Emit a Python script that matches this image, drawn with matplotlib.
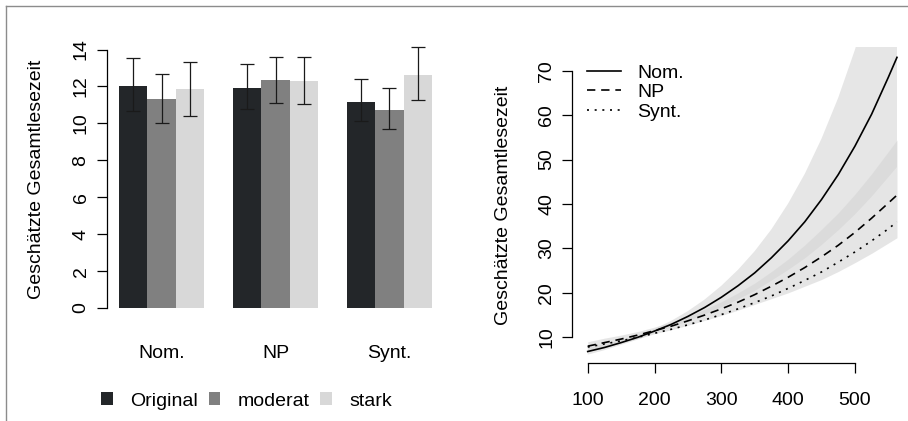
import matplotlib
matplotlib.use("Agg")
import matplotlib.pyplot as plt
from matplotlib.lines import Line2D
import numpy as np

plt.rcParams['font.family'] = ['Liberation Sans', 'DejaVu Sans']
plt.rcParams['font.size'] = 14

W, H = 908, 421

# left panel: estimated total reading time per condition and degradation level
conditions = ["Nom.", "NP", "Synt."]
levels = ["Original", "moderat", "stark"]
level_colors = ["#232629", "#808080", "#d8d8d8"]

mean_original = [12.00, 11.93, 11.18]
low_original = [10.67, 10.78, 10.12]
high_original = [13.52, 13.22, 12.42]

mean_moderat = [11.30, 12.33, 10.70]
low_moderat = [10.00, 11.13, 9.69]
high_moderat = [12.70, 13.62, 11.92]

mean_stark = [11.85, 12.28, 12.62]
low_stark = [10.42, 11.06, 11.29]
high_stark = [13.33, 13.58, 14.14]

# right panel: fitted curves with confidence bands
x_len = [100, 125, 150, 175, 200, 225, 250, 275, 300, 325, 350, 375, 400,
         425, 450, 475, 500, 525, 550, 563]
fit_nom = [6.8, 7.7, 8.8, 10.0, 11.4, 12.9, 14.7, 16.7, 19.0, 21.6, 24.5,
           27.9, 31.7, 36.0, 41.0, 46.6, 53.0, 60.2, 68.5, 73.0]
fit_np = [8.0, 8.8, 9.6, 10.5, 11.5, 12.5, 13.7, 15.0, 16.4, 17.9, 19.6,
          21.5, 23.5, 25.7, 28.1, 30.7, 33.6, 36.8, 40.2, 42.0]
fit_synt = [7.8, 8.5, 9.2, 10.0, 10.9, 11.8, 12.8, 13.9, 15.1, 16.4, 17.8,
            19.3, 21.0, 22.8, 24.7, 26.9, 29.2, 31.7, 34.4, 36.0]

nom_lo = [6.1, 7.1, 8.3, 9.5, 10.9, 12.2, 13.6, 15.1, 16.7, 18.5, 20.4,
          22.7, 25.1, 27.7, 30.7, 34.0, 37.6, 41.6, 46.0, 48.3]
nom_hi = [7.6, 8.4, 9.4, 10.5, 11.9, 13.7, 15.9, 18.5, 21.6, 25.2, 29.4,
          34.3, 40.1, 46.8, 54.7, 63.9, 74.7, 87.2, 101.9, 110.2]
np_lo = [7.1, 7.9, 8.8, 9.7, 10.8, 11.7, 12.7, 13.8, 14.9, 16.1, 17.4,
         18.7, 20.0, 21.5, 23.0, 24.8, 26.8, 28.9, 31.2, 32.4]
np_hi = [9.0, 9.8, 10.5, 11.3, 12.3, 13.4, 14.7, 16.3, 18.0, 20.0, 22.2,
         24.8, 27.6, 30.8, 34.3, 38.0, 42.2, 46.8, 51.8, 54.4]

fig = plt.figure(figsize=(W / 100, H / 100), dpi=100)


def px_box(left, top, right, bottom):
    return [left / W, 1 - bottom / H, (right - left) / W, (bottom - top) / H]


# ---- bar chart ----
ax1 = fig.add_axes(px_box(106.5, 39.2, 444.5, 318.4))
means = [mean_original, mean_moderat, mean_stark]
lows = [low_original, low_moderat, low_stark]
highs = [high_original, high_moderat, high_stark]
group_pos = np.arange(len(conditions)) * 4 + 1
bar_handles = []
for j, lev in enumerate(levels):
    xs = group_pos + 0.5 + j
    m = np.array(means[j])
    b = ax1.bar(xs, m, width=1.0, color=level_colors[j], linewidth=0, label=lev)
    bar_handles.append(b)
    ax1.errorbar(xs, m, yerr=[m - np.array(lows[j]), np.array(highs[j]) - m],
                 fmt='none', ecolor='#1a1a1a', elinewidth=0.9,
                 capsize=4.7, capthick=0.9)

ax1.set_xlim(0.56, 12.44)
ax1.set_ylim(-0.56, 14.56)
for s in ['top', 'right', 'bottom']:
    ax1.spines[s].set_visible(False)
ax1.spines['left'].set_bounds(0, 14)
ax1.spines['left'].set_linewidth(0.9)
ax1.set_yticks(range(0, 15, 2))
ax1.tick_params(axis='y', labelrotation=90, length=7.2, width=0.9, pad=5)
for lab in ax1.get_yticklabels():
    lab.set_va('center')
ax1.set_xticks(group_pos + 1.5)
ax1.set_xticklabels(conditions)
ax1.tick_params(axis='x', length=0, pad=19)

fig.text(37 / W, 1 - 179 / H, "Geschätzte Gesamtlesezeit", rotation=90,
         ha='center', va='center')

fig.legend(handles=bar_handles, labels=levels, ncol=3, loc='center left',
           bbox_to_anchor=(101 / W, 1 - 401 / H), frameon=False,
           handlelength=0.6, handleheight=0.6, handletextpad=0.9,
           columnspacing=0.55, borderpad=0, borderaxespad=0)

# ---- fitted curves ----
ax2 = fig.add_axes(px_box(572.3, 46.7, 908, 362.7))
ax2.fill_between(x_len, nom_lo, nom_hi, color='#e6e6e6', linewidth=0)
ax2.fill_between(x_len, np_lo, np_hi, color='#d5d5d5', alpha=0.6,
                 linewidth=0)
ax2.plot(x_len, fit_nom, color='black', lw=1.2, ls='-', label="Nom.")
ax2.plot(x_len, fit_np, color='black', lw=1.2, ls=(0, (5, 3.5)), label="NP")
ax2.plot(x_len, fit_synt, color='black', lw=1.2, ls=(0, (1.2, 3.4)),
         label="Synt.")

ax2.set_xlim(76.9, 579.5)
ax2.set_ylim(4.28, 75.4)
ax2.spines['top'].set_visible(False)
ax2.spines['right'].set_visible(False)
ax2.spines['left'].set_bounds(10, 70)
ax2.spines['bottom'].set_bounds(100, 500)
ax2.spines['left'].set_linewidth(0.9)
ax2.spines['bottom'].set_linewidth(0.9)
ax2.set_yticks(range(10, 71, 10))
ax2.set_xticks(range(100, 501, 100))
ax2.tick_params(axis='y', labelrotation=90, length=7.2, width=0.9, pad=5)
for lab in ax2.get_yticklabels():
    lab.set_va('center')
ax2.tick_params(axis='x', length=7.2, width=0.9, pad=14)

fig.text(503.5 / W, 1 - 205 / H, "Geschätzte Gesamtlesezeit", rotation=90,
         ha='center', va='center')

ax2.legend(loc='upper left', bbox_to_anchor=(586.7 / W, 1 - 64 / H),
           bbox_transform=fig.transFigure, frameon=False,
           handlelength=1.75, handletextpad=0.85, labelspacing=0.1,
           borderpad=0, borderaxespad=0)

# outer frame
fig.add_artist(Line2D([6 / W, 6 / W], [0, 1 - 5.5 / H], transform=fig.transFigure,
                      color='#8c8c8c', lw=1))
fig.add_artist(Line2D([6 / W, 1], [1 - 5.5 / H, 1 - 5.5 / H],
                      transform=fig.transFigure, color='#8c8c8c', lw=1))

fig.savefig("out.png", dpi=100)
